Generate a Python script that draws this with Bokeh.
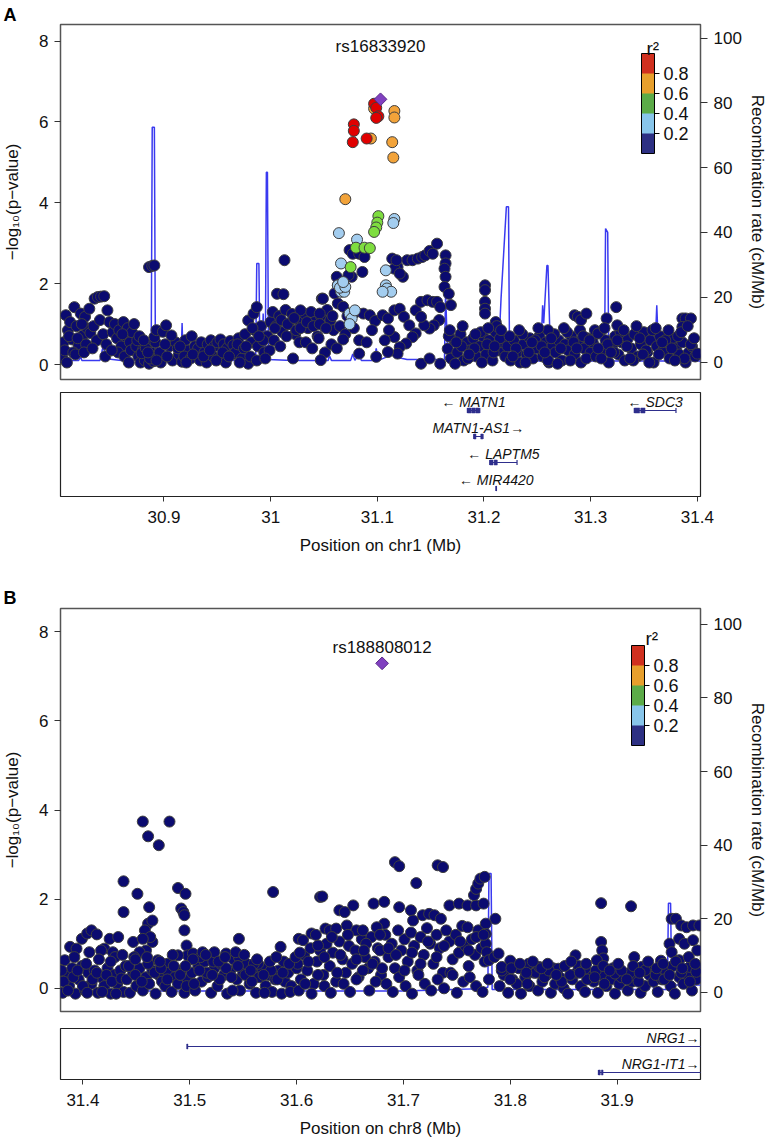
from bokeh.plotting import figure
from bokeh.models import (Range1d, LinearAxis, FixedTicker, ColorBar, LinearColorMapper,
                          Label, NumeralTickFormatter)
from bokeh.layouts import column
from bokeh.embed import file_html
from bokeh.resources import INLINE
from bokeh.core.properties import value

# ---------------------------------------------------------------- data: panel A (chr1)
a_lead_name = "rs16833920"
a_lead_pos = 31.103
a_lead_logp = 6.56

a_navy_pos = [
    30.805, 30.806, 30.808, 30.810, 30.812, 30.814, 30.816, 30.818, 30.820, 30.822, 30.824, 30.826, 30.828, 30.830,
    30.807, 30.811, 30.815, 30.819, 30.823, 30.827, 30.831,
    30.835, 30.838, 30.841, 30.844, 30.847, 30.834, 30.837, 30.840, 30.843, 30.846, 30.849, 30.852,
    30.854, 30.856, 30.858, 30.860, 30.862, 30.864, 30.866, 30.868, 30.870, 30.872, 30.857, 30.863, 30.869,
    30.874, 30.876, 30.878, 30.880, 30.882, 30.884, 30.886, 30.888, 30.890, 30.892, 30.894, 30.875, 30.879, 30.883, 30.887, 30.891, 30.886, 30.889, 30.891, 30.893,
    30.896, 30.899, 30.902, 30.905, 30.908, 30.911, 30.914, 30.917, 30.920, 30.923, 30.926, 30.929, 30.897, 30.901, 30.907, 30.913, 30.919, 30.925,
    30.932, 30.935, 30.938, 30.941, 30.944, 30.947, 30.950, 30.953, 30.956, 30.959, 30.962, 30.965, 30.934, 30.940, 30.946, 30.952, 30.958, 30.964,
    30.967, 30.970, 30.973, 30.976, 30.979, 30.982, 30.985, 30.988, 30.991, 30.994, 30.997, 31.000, 30.969, 30.975, 30.981, 30.987, 30.993, 30.999, 30.979, 30.984, 30.987,
    31.002, 31.005, 31.008, 31.011, 31.014, 31.017, 31.020, 31.023, 31.026, 31.029, 31.003, 31.009, 31.015, 31.021, 31.027, 31.006, 31.012, 31.013, 31.024,
    31.032, 31.035, 31.038, 31.041, 31.044, 31.047, 31.050, 31.053, 31.056, 31.059, 31.033, 31.039, 31.045, 31.051, 31.057, 31.047, 31.048,
    31.062, 31.063, 31.074, 31.077, 31.083, 31.088, 31.086, 31.076, 31.073, 31.060, 31.063, 31.068, 31.049, 31.046, 31.028, 31.072, 31.080, 31.087, 31.093, 31.098, 31.065, 31.070, 31.078, 31.083, 31.083, 31.090, 31.095, 31.099, 31.062, 31.068,
    31.114, 31.119, 31.124, 31.128, 31.133, 31.138, 31.142, 31.145, 31.149, 31.152, 31.156, 31.164, 31.164, 31.163, 31.164, 31.163,
    31.167, 31.169, 31.116, 31.121, 31.118,
    31.105, 31.110, 31.116, 31.121, 31.125, 31.130, 31.136, 31.141, 31.147, 31.152, 31.156, 31.159, 31.158, 31.153, 31.149, 31.144, 31.141, 31.136, 31.133, 31.127, 31.121, 31.116, 31.111, 31.107, 31.119, 31.110, 31.141, 31.159, 31.149,
    31.166, 31.169, 31.172, 31.175, 31.178, 31.181, 31.184, 31.187, 31.190, 31.193, 31.196, 31.199, 31.202, 31.205, 31.208, 31.211, 31.214, 31.217, 31.220,
    31.167, 31.173, 31.179, 31.185, 31.191, 31.197, 31.203, 31.209, 31.215, 31.201, 31.201, 31.201, 31.201, 31.201, 31.211, 31.212,
    31.222, 31.225, 31.228, 31.231, 31.234, 31.237, 31.240, 31.243, 31.246, 31.249, 31.252, 31.255, 31.258, 31.261, 31.264, 31.267, 31.270, 31.273, 31.276, 31.279, 31.282, 31.285, 31.288, 31.291, 31.294, 31.297, 31.300,
    31.224, 31.230, 31.236, 31.242, 31.248, 31.254, 31.260, 31.266, 31.272, 31.278, 31.284, 31.290, 31.296,
    31.285, 31.288, 31.291, 31.296, 31.260,
    31.302, 31.305, 31.308, 31.311, 31.314, 31.317, 31.320, 31.323, 31.326, 31.329, 31.332, 31.335, 31.338, 31.341, 31.344, 31.347, 31.350, 31.353, 31.356, 31.359, 31.362, 31.365, 31.368, 31.371, 31.374, 31.377, 31.380, 31.383, 31.386, 31.389, 31.392, 31.395, 31.398,
    31.304, 31.310, 31.316, 31.322, 31.328, 31.334, 31.340, 31.346, 31.352, 31.358, 31.364, 31.370, 31.376, 31.382, 31.388, 31.394, 31.400,
    31.315, 31.324, 31.325, 31.307, 31.386, 31.389, 31.394, 31.386,
    31.168, 31.174, 31.180, 31.186, 31.192, 31.198, 31.204, 31.210, 31.216,
    31.227, 31.233, 31.239, 31.245, 31.251, 31.257, 31.263, 31.269, 31.275, 31.281, 31.287, 31.293, 31.299,
    31.307, 31.313, 31.319, 31.325, 31.331, 31.337, 31.343, 31.349, 31.355, 31.361, 31.367, 31.373, 31.379, 31.385, 31.391, 31.397,
    30.809, 30.817, 30.825, 30.833, 30.845, 30.851, 30.861, 30.867, 30.877, 30.881, 30.885, 30.893, 30.903, 30.915, 30.921, 30.927, 30.937, 30.943, 30.949, 30.955, 30.961, 30.971, 30.977, 30.983, 30.989, 30.995,
    31.004, 31.010, 31.016, 31.022, 31.028, 31.034, 31.040, 31.046, 31.052, 31.058,
]
a_navy_logp = [
    0.15, 0.55, 1.22, 0.85, 1.05, 0.62, 1.42, 0.95, 0.48, 1.26, 0.72, 1.18, 0.90, 1.38,
    0.35, 0.70, 0.30, 0.65, 1.00, 0.50, 0.78,
    1.63, 1.67, 1.68, 1.69, 1.34, 0.95, 0.60, 1.10, 0.75, 0.50, 1.05, 0.80,
    1.00, 0.65, 0.85, 0.45, 1.05, 0.70, 0.90, 0.55, 0.80, 1.00, 0.30, 0.20, 0.35,
    0.45, 0.20, 0.05, 0.35, 0.10, 0.50, 0.02, 0.30, 0.08, 0.55, 0.25, 0.60, 0.28, 0.40, 0.15, 0.68, 2.41, 2.44, 2.45, 0.85,
    0.30, 0.81, 0.97, 0.45, 0.10, 0.55, 0.25, 0.07, 0.60, 0.35, 0.70, 0.45, 0.05, 0.50, 0.72, 0.40, 0.20, 0.15,
    0.40, 0.55, 0.30, 0.50, 0.60, 0.45, 0.55, 0.62, 0.50, 0.40, 0.58, 0.48, 0.10, 0.05, 0.20, 0.15, 0.05, 0.25,
    0.30, 0.65, 0.15, 0.75, 0.02, 0.55, 0.85, 0.45, 0.95, 0.30, 0.70, 1.05, 0.50, 0.40, 0.20, 0.10, 0.60, 0.35, 1.09, 1.26, 1.42,
    1.30, 0.95, 1.20, 0.80, 1.35, 1.00, 1.25, 0.75, 1.10, 1.30, 0.60, 0.45, 0.70, 0.15, 0.55, 1.75, 1.74, 2.58, 0.85,
    1.25, 0.90, 1.30, 1.05, 0.70, 1.20, 0.95, 1.35, 1.10, 0.85, 0.55, 0.40, 0.65, 0.30, 0.50, 0.11, 1.63,
    2.17, 1.96, 2.83, 2.74, 2.74, 2.66, 2.29, 2.17, 2.21, 1.76, 1.51, 1.43, 1.63, 1.26, 1.34, 1.20, 1.30, 1.26, 1.22, 1.08, 0.95, 0.75, 0.90, 0.60, 0.27, 0.55, 0.85, 0.19, 0.40, 0.62,
    2.62, 2.41, 2.17, 2.58, 2.58, 2.62, 2.66, 2.70, 2.81, 2.74, 2.99, 2.70, 2.50, 2.37, 2.17, 1.92,
    1.75, 1.47, 2.37, 2.25, 2.58,
    1.22, 1.14, 1.34, 1.38, 1.18, 0.97, 1.34, 1.55, 1.59, 1.55, 1.55, 1.42, 1.10, 0.97, 0.89, 0.97, 1.18, 0.77, 0.68, 0.52, 0.43, 0.68, 0.85, 0.60, 0.27, 0.31, 0.02, 0.02, 0.15,
    0.39, 0.15, 0.60, 0.30, 0.75, 0.10, 0.55, 0.35, 0.65, 0.20, 0.45, 0.70, 0.25, 0.60, 0.10, 0.80, 0.35, 0.55, 0.20,
    0.70, 0.02, 0.45, 0.15, 0.40, 0.80, 0.50, 0.30, 0.65, 1.96, 1.84, 1.55, 1.38, 1.26, 1.05, 0.95,
    0.45, 0.10, 0.60, 0.30, 0.05, 0.50, 0.25, 0.65, 0.15, 0.40, 0.70, 0.20, 0.55, 0.05, 0.45, 0.30, 0.60, 0.10, 0.50, 0.35, 0.70, 0.25, 0.55, 0.05, 0.40, 0.65, 0.30,
    0.70, 0.40, 0.75, 0.30, 0.60, 0.45, 0.10, 0.75, 0.40, 0.80, 0.55, 0.85, 0.15,
    1.22, 1.18, 1.10, 1.26, 0.85,
    0.55, 0.20, 0.77, 0.35, 0.60, 0.05, 0.45, 0.70, 0.25, 0.55, 0.10, 0.65, 0.40, 0.75, 0.20, 0.50, 0.80, 0.30, 0.60, 0.05, 0.45, 0.70, 0.35, 0.55, 0.15, 0.65, 0.40, 0.25, 0.55, 0.05, 0.30, 0.45, 0.20,
    0.85, 0.15, 0.50, 0.30, 0.80, 0.45, 0.10, 0.65, 0.35, 0.85, 0.25, 0.60, 0.40, 0.70, 0.15, 0.50, 0.27,
    1.14, 1.42, 0.97, 0.77, 1.14, 1.14, 1.14, 0.93,
    0.85, 0.55, 0.95, 0.25, 0.75, 0.05, 0.90, 0.45, 0.85,
    0.20, 0.85, 0.05, 0.55, 0.90, 0.30, 0.65, 0.02, 0.90, 0.10, 0.40, 0.70, 0.60,
    0.40, 0.90, 0.30, 0.60, 0.85, 0.15, 0.95, 0.25, 0.05, 0.90, 0.55, 0.85, 0.10, 0.80, 0.95, 0.65,
    0.05, 0.25, 0.30, 0.40, 0.20, 0.35, 0.75, 0.05, 0.70, 0.60, 0.30, 0.10, 0.20, 0.45, 0.05, 0.25, 0.20, 0.35, 0.10, 0.30, 0.20, 0.05, 0.45, 0.90, 0.70, 0.15,
    0.90, 1.10, 1.00, 1.15, 0.90, 1.05, 0.95, 1.00, 0.90, 1.20,
]
a_lb_pos = [31.064, 31.066, 31.081, 31.063, 31.066, 31.069, 31.065, 31.074, 31.076, 31.074, 31.079, 31.108, 31.116, 31.115, 31.108, 31.109, 31.113, 31.105, 31.070, 31.068]
a_lb_logp = [3.25, 2.50, 3.09, 1.96, 1.80, 1.80, 1.90, 1.26, 1.14, 1.00, 1.34, 2.33, 3.60, 3.50, 1.96, 1.88, 1.80, 1.80, 1.92, 2.04]
a_green_pos = [31.101, 31.100, 31.099, 31.097, 31.080, 31.088, 31.093, 31.075]
a_green_logp = [3.67, 3.51, 3.39, 3.28, 2.89, 2.89, 2.88, 2.41]
a_orange_pos = [31.094, 31.116, 31.116, 31.114, 31.115, 31.070, 31.097]
a_orange_logp = [5.59, 6.27, 6.11, 5.50, 5.12, 4.09, 6.33]
a_red_pos = [31.097, 31.099, 31.101, 31.099, 31.078, 31.078, 31.077, 31.090]
a_red_logp = [6.45, 6.35, 6.14, 6.10, 5.94, 5.78, 5.50, 5.59]

a_rec_pos = [30.803, 30.805, 30.808, 30.820, 30.822, 30.823, 30.840, 30.843, 30.846, 30.860,
             30.888, 30.889, 30.891, 30.892, 30.910, 30.916, 30.917, 30.918, 30.950, 30.985,
             30.986, 30.987, 30.989, 30.990, 30.992, 30.993, 30.994, 30.995, 30.996, 30.997,
             30.998, 31.020, 31.054, 31.055, 31.057, 31.075, 31.077, 31.079, 31.083, 31.085,
             31.097, 31.099, 31.101, 31.116, 31.118, 31.128, 31.135, 31.160, 31.163, 31.164,
             31.166, 31.168, 31.210, 31.214, 31.216, 31.221, 31.223, 31.224, 31.225, 31.253,
             31.255, 31.256, 31.259, 31.260, 31.262, 31.265, 31.313, 31.314, 31.316, 31.317,
             31.360, 31.362, 31.364, 31.403]
a_rec_rate = [2.5, 1.0, 0.5, 0.5, 1.5, 0.5, 0.5, 5.0, 1.0, 0.5,
              0.5, 72.5, 72.5, 0.8, 0.5, 0.5, 12.0, 0.5, 0.5, 0.5,
              0.5, 30.4, 30.4, 0.5, 0.5, 15.0, 0.8, 0.8, 58.6, 58.6,
              0.8, 0.5, 0.5, 2.0, 0.5, 0.5, 2.5, 0.5, 2.5, 0.5,
              0.5, 4.2, 0.5, 2.5, 1.5, 0.8, 0.8, 0.8, 0.8, 21.5,
              1.5, 0.5, 0.3, 5.0, 19.5, 47.9, 47.9, 0.3, 0.3, 0.3,
              17.5, 12.0, 29.8, 29.8, 6.0, 0.3, 0.3, 41.2, 40.0, 0.3,
              0.3, 17.5, 0.3, 0.3]

a_gene_names = ["MATN1", "MATN1-AS1", "LAPTM5", "MIR4420", "SDC3"]
a_gene_strand = ["-", "+", "-", "-", "-"]
a_gene_start = [31.1845, 31.1905, 31.2055, 31.2113, 31.3410]
a_gene_end = [31.1960, 31.1990, 31.2310, 31.2117, 31.3800]
a_gene_row = [0, 1, 2, 3, 0]
a_exon_gene = [0, 0, 0, 1, 1, 2, 2, 3, 4, 4]
a_exon_start = [31.1845, 31.1885, 31.1925, 31.1905, 31.1970, 31.2055, 31.2095, 31.2113, 31.3410, 31.3470]
a_exon_end = [31.1880, 31.1920, 31.1960, 31.1925, 31.1990, 31.2085, 31.2125, 31.2117, 31.3460, 31.3510]
a_xticks = [30.9, 31.0, 31.1, 31.2, 31.3, 31.4]

# ---------------------------------------------------------------- data: panel B (chr8)
b_lead_name = "rs188808012"
b_lead_pos = 31.680
b_lead_logp = 7.29

b_navy_pos = [
    31.383, 31.388, 31.394, 31.399, 31.404, 31.408, 31.413, 31.406, 31.420, 31.425, 31.428, 31.433, 31.438, 31.438, 31.417, 31.430,
    31.381, 31.384, 31.387, 31.390, 31.393, 31.396, 31.399, 31.402, 31.405, 31.408, 31.411, 31.414, 31.417, 31.420, 31.423, 31.426, 31.429, 31.432, 31.435, 31.438,
    31.382, 31.386, 31.391, 31.395, 31.400, 31.404, 31.409, 31.413, 31.418, 31.422, 31.427, 31.431, 31.436, 31.440,
    31.447, 31.451, 31.456, 31.461, 31.462, 31.461, 31.465, 31.458, 31.459, 31.471, 31.481, 31.465, 31.489, 31.496, 31.492, 31.494, 31.495, 31.495, 31.497, 31.498, 31.463, 31.456, 31.453, 31.448, 31.470, 31.479, 31.489, 31.503,
    31.441, 31.444, 31.447, 31.450, 31.453, 31.456, 31.459, 31.462, 31.465, 31.468, 31.471, 31.474, 31.477, 31.480, 31.483, 31.486, 31.489, 31.492, 31.495, 31.498,
    31.443, 31.449, 31.455, 31.461, 31.467, 31.473, 31.479, 31.485, 31.491, 31.497,
    31.502, 31.505, 31.508, 31.511, 31.514, 31.517, 31.520, 31.523, 31.526, 31.529, 31.532, 31.535, 31.538, 31.541, 31.544, 31.547, 31.550, 31.553, 31.556, 31.559, 31.562, 31.565, 31.568, 31.571, 31.574, 31.577, 31.580, 31.583, 31.586, 31.589, 31.592, 31.595, 31.598,
    31.504, 31.510, 31.516, 31.522, 31.528, 31.534, 31.540, 31.546, 31.552, 31.558, 31.564, 31.570, 31.576, 31.582, 31.588, 31.594, 31.600,
    31.512, 31.523, 31.534, 31.543, 31.546, 31.560, 31.578, 31.585,
    31.601, 31.604, 31.607, 31.610, 31.613, 31.616, 31.619, 31.622, 31.625, 31.628, 31.631, 31.634, 31.637, 31.640, 31.643, 31.646, 31.649, 31.652, 31.655, 31.658, 31.661, 31.664, 31.667, 31.670, 31.673, 31.676, 31.679,
    31.602, 31.608, 31.614, 31.620, 31.626, 31.632, 31.638, 31.644, 31.650, 31.656, 31.662, 31.668, 31.674, 31.680,
    31.602, 31.606, 31.614, 31.620, 31.622, 31.624, 31.627, 31.631, 31.637, 31.640, 31.645, 31.647, 31.653, 31.656, 31.662, 31.672, 31.682, 31.675, 31.665, 31.678,
    31.683, 31.686, 31.689, 31.692, 31.695, 31.698, 31.701, 31.704, 31.707, 31.710, 31.713, 31.716, 31.719, 31.722, 31.725, 31.728, 31.731, 31.734, 31.737, 31.740, 31.743, 31.746, 31.749, 31.752, 31.755, 31.758, 31.761, 31.764, 31.767, 31.770, 31.773, 31.776,
    31.684, 31.690, 31.696, 31.702, 31.708, 31.714, 31.720, 31.726, 31.732, 31.738, 31.744, 31.750, 31.756, 31.762, 31.768, 31.774, 31.780,
    31.692, 31.696, 31.732, 31.737, 31.712, 31.682, 31.696, 31.707, 31.743, 31.752, 31.760, 31.768, 31.775, 31.766, 31.768, 31.770, 31.772, 31.776, 31.786, 31.718, 31.724, 31.729, 31.709, 31.735, 31.760, 31.777, 31.777, 31.777, 31.778, 31.780, 31.785,
    31.790, 31.794, 31.798, 31.802, 31.806, 31.810, 31.814, 31.818, 31.822, 31.826, 31.830, 31.834, 31.838, 31.842, 31.846, 31.850, 31.854, 31.858, 31.862, 31.866, 31.870, 31.874, 31.878, 31.882, 31.886, 31.890, 31.894, 31.898, 31.902, 31.906, 31.910, 31.914, 31.918, 31.922, 31.926, 31.930, 31.934, 31.938, 31.942, 31.946, 31.950, 31.954, 31.958, 31.962, 31.966, 31.970, 31.974,
    31.792, 31.800, 31.808, 31.816, 31.824, 31.832, 31.840, 31.848, 31.856, 31.864, 31.872, 31.880, 31.888, 31.896, 31.904, 31.912, 31.920, 31.928, 31.936, 31.944, 31.952, 31.960, 31.968, 31.976,
    31.800, 31.817, 31.861, 31.885, 31.885, 31.886, 31.887, 31.881, 31.898, 31.913, 31.916, 31.923, 31.941, 31.949, 31.951, 31.955, 31.960, 31.965, 31.971, 31.977, 31.958, 31.963, 31.971, 31.975, 31.951, 31.958, 31.968, 31.974, 31.926, 31.789, 31.792, 31.845, 31.827, 31.836, 31.870, 31.904,
    31.801, 31.809, 31.815, 31.821, 31.829, 31.835, 31.843, 31.851, 31.857, 31.865, 31.871, 31.879, 31.887, 31.893, 31.901, 31.909, 31.915, 31.921, 31.929, 31.937, 31.943, 31.949, 31.955, 31.961, 31.967, 31.973,
    31.503, 31.509, 31.515, 31.521, 31.527, 31.533, 31.539, 31.545, 31.551, 31.557, 31.563, 31.569, 31.575, 31.581, 31.587, 31.593, 31.599,
    31.380, 31.392, 31.403, 31.415, 31.426, 31.437, 31.449, 31.460, 31.472, 31.484, 31.496,
    31.603, 31.611, 31.618, 31.626, 31.633, 31.641, 31.648, 31.656, 31.663, 31.671, 31.678, 31.686, 31.693, 31.701, 31.708, 31.716, 31.723, 31.731, 31.738, 31.746, 31.753, 31.761, 31.768, 31.775,
]
b_navy_logp = [
    0.63, 0.93, 0.89, 1.11, 1.23, 1.30, 1.21, 0.81, 0.89, 1.11, 0.81, 1.15, 2.40, 1.71, 0.85, 0.70,
    -0.10, 0.30, 0.05, 0.45, -0.12, 0.20, 0.50, -0.05, 0.35, 0.10, 0.40, -0.10, 0.25, 0.05, 0.45, -0.12, 0.30, 0.10, 0.40, -0.08,
    0.15, -0.05, 0.25, 0.40, 0.05, -0.10, 0.20, 0.35, -0.08, 0.30, 0.15, -0.12, 0.22, 0.50,
    1.04, 2.12, 3.74, 3.41, 1.82, 1.45, 1.52, 1.30, 0.85, 3.21, 3.74, 1.04, 2.25, 2.12, 1.79, 1.71, 1.64, 1.30, 0.96, 0.74, 1.15, 1.11, 0.81, 0.70, 0.63, 0.55, 0.74, 0.78,
    0.20, -0.10, 0.35, 0.05, 0.45, -0.05, 0.25, 0.10, 0.40, -0.12, 0.30, 0.15, 0.05, 0.35, -0.08, 0.25, 0.10, 0.40, -0.10, 0.20,
    0.50, 0.30, 0.15, 0.55, 0.35, 0.45, 0.20, 0.50, 0.30, 0.05,
    0.35, -0.05, 0.50, 0.15, 0.60, 0.25, -0.10, 0.45, 0.05, 0.55, 0.30, -0.12, 0.40, 0.65, 0.20, -0.05, 0.35, 0.55, 0.10, 0.40, -0.10, 0.25, 0.45, 0.05, 0.30, -0.08, 0.20, 0.40, -0.12, 0.15, 0.35, 0.05, 0.50,
    0.10, 0.70, 0.35, 0.60, 0.20, 0.45, -0.05, 0.70, 0.30, 0.15, 0.55, -0.10, 0.40, 0.20, 0.60, -0.08, 0.45,
    0.81, 0.81, 0.78, 0.81, 1.11, 0.55, 2.16, 0.93,
    0.55, 0.20, 0.75, 0.40, 0.90, 0.10, 0.60, 0.85, 0.30, 1.00, 0.50, 0.80, 0.15, 1.05, 0.65, 0.35, 0.95, 0.55, 0.85, 0.25, 1.10, 0.70, 0.45, 1.15, 0.60, 0.90, 0.30,
    -0.05, 0.10, -0.12, 0.30, 0.05, -0.10, 0.35, 0.10, -0.08, 0.20, 0.40, -0.05, 0.15, 0.45,
    1.11, 1.08, 1.23, 0.96, 2.05, 2.06, 1.34, 1.30, 1.34, 1.75, 1.71, 1.41, 1.86, 1.30, 1.30, 1.90, 1.45, 1.37, 1.00, 0.85,
    1.20, 0.70, 1.00, 0.45, 1.30, 0.85, 1.10, 0.60, 1.25, 0.95, 0.40, 1.15, 0.75, 1.35, 1.00, 0.55, 1.20, 0.90, 0.35, 1.30, 1.05, 0.65, 1.20, 0.80, 1.40, 0.95, 0.50, 1.10, 0.75, 1.30, 0.90, 0.60,
    0.10, -0.08, 0.25, 0.05, -0.12, 0.30, 0.10, -0.05, 0.20, 0.00, 0.35, -0.10, 0.15, 0.25, 0.05, -0.08, 0.20,
    2.83, 2.74, 2.76, 2.72, 2.36, 1.94, 1.82, 1.75, 1.86, 1.90, 1.86, 1.86, 1.90, 2.09, 2.23, 2.35, 2.46, 2.50, 1.56, 1.64, 1.67, 1.64, 1.52, 1.56, 1.37, 1.45, 1.22, 1.00, 0.81, 0.63, 0.70,
    0.05, 0.30, -0.10, 0.20, 0.10, -0.12, 0.25, 0.05, 0.35, -0.05, 0.15, 0.30, -0.10, 0.10, 0.25, 0.00, -0.12, 0.20, 0.35, 0.05, -0.08, 0.25, 0.15, -0.10, 0.30, 0.05, 0.20, -0.12, 0.10, 0.30, -0.05, 0.15, 0.25, -0.10, 0.05, 0.30, 0.15, -0.08, 0.20, 0.35, 0.05, -0.12, 0.25, 0.10, 0.30, -0.05, 0.20,
    0.40, 0.20, 0.45, 0.10, 0.35, 0.25, 0.45, 0.15, 0.30, 0.50, 0.20, 0.40, 0.10, 0.45, 0.25, 0.35, 0.15, 0.45, 0.30, 0.20, 0.50, 0.35, 0.15, 0.45,
    0.62, 0.55, 0.74, 1.91, 1.04, 0.85, 0.67, 0.63, 0.33, 1.84, 0.70, 0.48, 0.62, 1.00, 1.56, 1.56, 1.41, 1.37, 1.41, 1.41, 1.11, 1.00, 1.08, 0.85, 0.81, 0.63, 0.48, 0.37, 0.40, 0.78, 0.48, 0.44, 0.48, 0.40, 0.44, 0.40,
    0.45, 0.55, 0.35, 0.60, 0.45, 0.55, 0.30, 0.50, 0.60, 0.35, 0.55, 0.25, 0.50, 0.40, 0.55, 0.20, 0.50, 0.35, 0.60, 0.45, 0.55, 0.30, 0.60, 0.45, 0.70, 0.55,
    0.65, 0.40, 0.75, 0.30, 0.60, 0.70, 0.25, 0.50, 0.75, 0.40, 0.65, 0.30, 0.60, 0.70, 0.35, 0.55, 0.70,
    0.40, 0.70, 0.55, 0.65, 0.60, 0.75, 0.65, 0.70, 0.60, 0.75, 0.50,
    0.80, 0.60, 1.20, 0.70, 1.15, 0.75, 1.20, 0.65, 0.85, 0.55, 1.20, 0.90, 0.75, 0.40, 0.80, 0.55, 1.05, 0.70, 0.95, 0.30, 1.05, 0.85, 1.15, 1.20,
]

b_rec_pos = [31.379, 31.490, 31.493, 31.494, 31.496, 31.700, 31.770, 31.779, 31.780, 31.782,
             31.783, 31.930, 31.931, 31.933, 31.934, 31.947, 31.948, 31.950, 31.951, 31.978]
b_rec_rate = [0.4, 0.4, 0.4, 3.8, 0.4, 0.4, 1.0, 1.4, 32.3, 32.3,
              0.8, 0.8, 7.3, 7.3, 0.8, 0.8, 24.2, 24.2, 2.0, 2.0]

b_gene_names = ["NRG1", "NRG1-IT1"]
b_gene_strand = ["+", "+"]
b_gene_start = [31.4977, 31.8825]
b_gene_end = [32.6220, 32.1000]
b_gene_row = [0, 1]
b_exon_gene = [0, 1, 1]
b_exon_start = [31.4972, 31.8825, 31.8852]
b_exon_end = [31.4982, 31.8842, 31.8868]
b_xticks = [31.4, 31.5, 31.6, 31.7, 31.8, 31.9]

r2_ticks = [0.2, 0.4, 0.6, 0.8]

# ---------------------------------------------------------------- styling
FONT = "Liberation Sans"
W = 769
ML, MR = 59, 66
NAVY, EDGE = "#0B0B70", "#3E3E3E"
C_LB, C_GREEN, C_ORANGE, C_RED = "#A3CDEF", "#7EDD3F", "#F2A33A", "#E00000"
BAR_COLORS = ["#2D3083", "#88C5EA", "#5CAB48", "#E79F2C", "#D0301F"]
LEAD = "#8040C0"
REC = "#3A3AF0"
GENE = "#2E2E8C"
PT = 11


def style_axis(ax, tick_out, label_standoff, axis_label_standoff):
    ax.axis_line_color = None
    ax.major_tick_in = 0
    ax.major_tick_out = tick_out
    ax.major_tick_line_color = "#333333"
    ax.minor_tick_line_color = None
    ax.major_label_text_font = FONT
    ax.major_label_text_font_size = "17px"
    ax.major_label_text_color = "#111111"
    ax.major_label_standoff = label_standoff
    ax.axis_label_text_font = FONT
    ax.axis_label_text_font_size = "17px"
    ax.axis_label_text_font_style = "normal"
    ax.axis_label_text_color = "#111111"
    ax.axis_label_standoff = axis_label_standoff


def main_panel(xr, yr, rr, height, top, rec, navy, colored, lead, label_dy,
               letter, letter_standoff, bar_loc, r2_loc):
    p = figure(width=W, height=height, x_range=xr, y_range=Range1d(*yr),
               output_backend="svg", toolbar_location=None, x_axis_location=None,
               min_border_left=ML, min_border_right=MR, min_border_top=top,
               min_border_bottom=5, title=letter)
    p.title.align = "left"
    p.title.offset = -57
    p.title.standoff = letter_standoff
    p.title.text_font = FONT
    p.title.text_font_size = "18px"
    p.title.text_font_style = "bold"
    p.title.text_color = "#000000"
    p.extra_y_ranges = {"rec": Range1d(*rr)}
    p.grid.visible = False
    p.outline_line_color = "#555555"
    p.outline_line_width = 1.5
    ax = p.yaxis[0]
    ax.ticker = FixedTicker(ticks=[0, 2, 4, 6, 8])
    ax.axis_label = "\u2212log\u2081\u2080(p\u2212value)"
    style_axis(ax, 6, 6, 14)
    rax = LinearAxis(y_range_name="rec", axis_label="Recombination rate (cM/Mb)",
                     ticker=FixedTicker(ticks=[0, 20, 40, 60, 80, 100]))
    style_axis(rax, 7, 6, 3)
    p.add_layout(rax, "right")

    p.line(rec[0], rec[1], y_range_name="rec", line_color=REC, line_width=1.5)
    p.scatter(navy[0], navy[1], size=PT, fill_color=NAVY, line_color=EDGE, line_width=1)
    for (xs, ys, col) in colored:
        p.scatter(xs, ys, size=PT, fill_color=col, line_color=EDGE, line_width=1)
    name, lx, ly = lead
    p.scatter([lx], [ly], marker="square", angle=0.7854, size=9, fill_color=LEAD,
              line_color="#5A2A8A", line_width=1)
    p.text(x=[lx], y=[ly + label_dy], text=[name],
           text_align="center", text_baseline="middle", text_font=value(FONT),
           text_font_size="17px", text_color="#111111")

    mapper = LinearColorMapper(palette=BAR_COLORS, low=0, high=1)
    cb = ColorBar(color_mapper=mapper, orientation="vertical", width=13, height=100,
                  location=bar_loc, padding=0, margin=0,
                  ticker=FixedTicker(ticks=r2_ticks),
                  major_label_text_font=FONT, major_label_text_font_size="18px",
                  major_label_text_color="#111111",
                  major_tick_in=0, major_tick_out=5, major_tick_line_color="black",
                  label_standoff=4, bar_line_color="black",
                  background_fill_alpha=0, border_line_color=None)
    p.add_layout(cb)
    p.add_layout(Label(x=r2_loc[0], y=r2_loc[1], x_units="screen", y_units="screen",
                       text="r\u00b2", text_font=FONT, text_font_size="19px",
                       text_color="#111111", text_baseline="alphabetic"))
    return p


def gene_panel(xr, height, top, frame_h, genes, exons, ticks, xlabel):
    p = figure(width=W, height=height, x_range=xr, y_range=Range1d(frame_h, 0),
               output_backend="svg", toolbar_location=None, y_axis_location=None,
               min_border_left=ML, min_border_right=MR, min_border_top=top,
               min_border_bottom=height - top - frame_h)
    p.grid.visible = False
    p.outline_line_color = "#222222"
    p.outline_line_width = 1.2
    ax = p.xaxis[0]
    ax.ticker = FixedTicker(ticks=ticks)
    ax.formatter = NumeralTickFormatter(format="0.[0]")
    ax.axis_label = xlabel
    style_axis(ax, 5, 9, 10)

    names, strands, starts, ends, rows = genes
    x1 = xr.end
    ys = [18 + 26 * r for r in rows]
    p.segment(x0=starts, y0=ys, x1=ends, y1=ys, line_color=GENE, line_width=1.2)
    p.segment(x0=starts, y0=[y - 2.5 for y in ys], x1=starts, y1=[y + 2.5 for y in ys],
              line_color=GENE, line_width=1.2)
    p.segment(x0=ends, y0=[y - 2.5 for y in ys], x1=ends, y1=[y + 2.5 for y in ys],
              line_color=GENE, line_width=1.2)
    eg, es, ee = exons
    ey = [ys[g] for g in eg]
    p.quad(left=es, right=ee, top=[y - 2.5 for y in ey], bottom=[y + 2.5 for y in ey],
           fill_color=GENE, line_color=GENE, line_width=0.5)

    lx, la, lt = [], [], []
    for n, s, a, b in zip(names, strands, starts, ends):
        lt.append("\u2190 " + n if s == "-" else n + "\u2192")
        if b > x1:
            lx.append(x1 - 0.001)
            la.append("right")
        else:
            lx.append((a + b) / 2)
            la.append("center")
    p.text(x=lx, y=[y - 9 for y in ys], text=lt, text_align=la, text_baseline="middle",
           text_font=value(FONT), text_font_style="italic", text_font_size="14px",
           text_color="#111111")
    return p


xa = Range1d(30.803, 31.403)
xb = Range1d(31.379, 31.978)

pA = main_panel(xa, (-0.37, 8.41), (-5.4, 104.2), 384, 24,
                (a_rec_pos, a_rec_rate), (a_navy_pos, a_navy_logp),
                [(a_lb_pos, a_lb_logp, C_LB), (a_green_pos, a_green_logp, C_GREEN),
                 (a_orange_pos, a_orange_logp, C_ORANGE), (a_red_pos, a_red_logp, C_RED)],
                (a_lead_name, a_lead_pos, a_lead_logp), 1.31, "A", 0, (581, 226), (586, 331))
gA = gene_panel(xa, 176, 8, 104,
                (a_gene_names, a_gene_strand, a_gene_start, a_gene_end, a_gene_row),
                (a_exon_gene, a_exon_start, a_exon_end), a_xticks, "Position on chr1 (Mb)")
pB = main_panel(xb, (-0.52, 8.52), (-5.2, 104.3), 456, 48,
                (b_rec_pos, b_rec_rate), (b_navy_pos, b_navy_logp), [],
                (b_lead_name, b_lead_pos, b_lead_logp), 0.36, "B", 2, (571, 266), (585, 373))
gB = gene_panel(xb, 124, 12, 51,
                (b_gene_names, b_gene_strand, b_gene_start, b_gene_end, b_gene_row),
                (b_exon_gene, b_exon_start, b_exon_end), b_xticks, "Position on chr8 (Mb)")

layout = column(pA, gA, pB, gB, spacing=0)
open("out.html", "w").write(file_html(layout, INLINE))
